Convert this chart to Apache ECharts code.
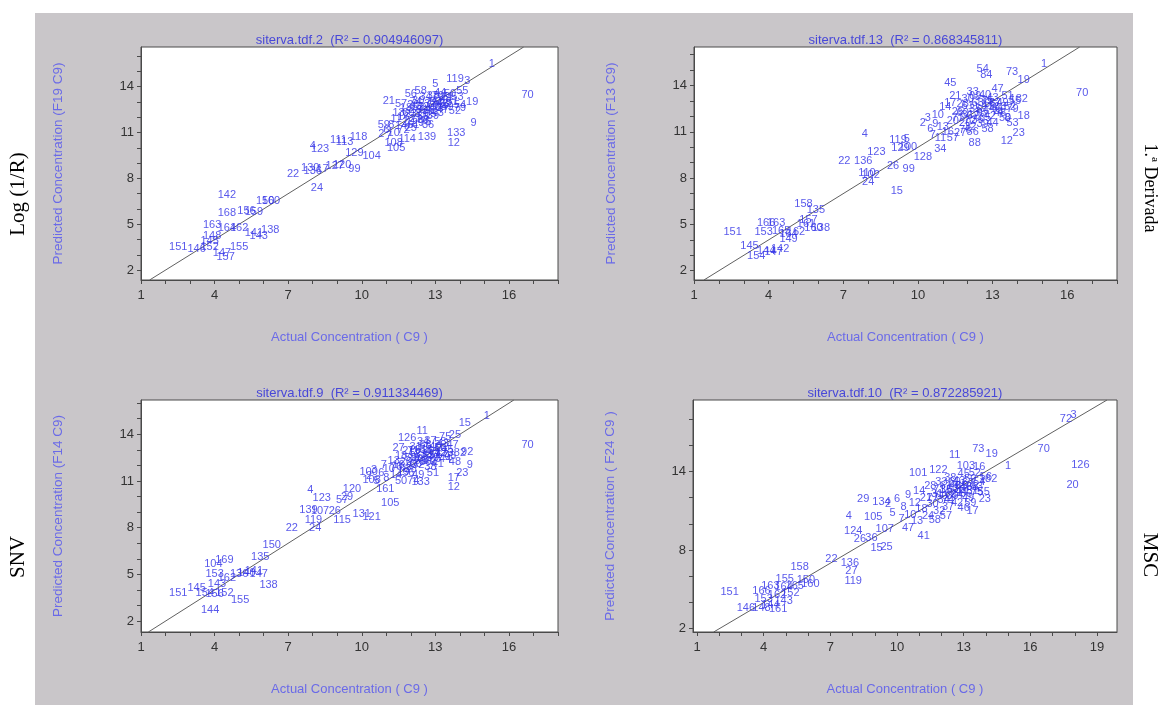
<!DOCTYPE html>
<html>
<head>
<meta charset="utf-8">
<script src="https://cdn.jsdelivr.net/npm/echarts@6/dist/echarts.min.js"></script>
<style>
  html, body { margin: 0; padding: 0; background: #fff; }
  #wrap { position: relative; width: 1164px; height: 705px; }
  #backdrop { position: absolute; left: 35px; top: 13px; width: 1098px; height: 692px; background: #c9c6c9; }
  #chart { position: absolute; left: 0; top: 0; width: 1164px; height: 705px; }
</style>
</head>
<body>
<div id="wrap">
  <div id="backdrop"></div>
  <div id="chart"></div>
</div>
<script>
// tick labels / tick positions
const xLabelsStd = [1, 4, 7, 10, 13, 16]
const xTicksStd = [1, 2, 3, 4, 5, 6, 7, 8, 9, 10, 11, 12, 13, 14, 15, 16, 17, 18]
const yLabelsStd = [2, 5, 8, 11, 14]
const yTicksStd = [2, 3, 4, 5, 6, 7, 8, 9, 10, 11, 12, 13, 14, 15, 16]
const xLabelsMsc = [1, 4, 7, 10, 13, 16, 19]
const xTicksMsc = [1, 2, 3, 4, 5, 6, 7, 8, 9, 10, 11, 12, 13, 14, 15, 16, 17, 18, 19]
const yLabelsMsc = [2, 8, 14]
const yTicksMsc = [2, 4, 6, 8, 10, 12, 14, 16, 18]

// Log (1/R)  -- sample id, actual C9, predicted
const logIds = [
  1, 70, 119, 3, 5, 9, 133, 12, 19, 79,
  21, 114, 139, 118, 111, 4, 123, 113, 129, 104,
  105, 108, 22, 130, 136, 17, 127, 120, 99, 24,
  142, 150, 160, 168, 156, 159, 163, 164, 162, 141,
  138, 143, 145, 148, 151, 146, 152, 155, 157, 147,
  2, 6, 7, 8, 10, 11, 13, 14, 16, 18,
  20, 23, 25, 26, 27, 28, 29, 30, 31, 32,
  33, 34, 35, 36, 37, 38, 39, 40, 42, 43,
  44, 46, 47, 48, 49, 50, 51, 52, 53, 54,
  55, 56, 57, 58, 59,
  60, 61, 62, 63, 64, 65, 66, 67, 68, 69,
  71, 72, 74, 75, 76]
const logActual = [
  15.3, 16.76, 13.8, 14.3, 13.0, 14.56, 13.85, 13.75, 14.5, 14.0,
  11.1, 11.85, 12.66, 9.87, 9.05, 8.0, 8.3, 9.3, 9.7, 10.4,
  11.4, 11.3, 7.2, 7.9, 8.0, 8.4, 8.9, 9.2, 9.7, 8.17,
  4.5, 6.06, 6.3, 4.5, 5.3, 5.6, 3.9, 4.5, 5.0, 5.6,
  6.27, 5.8, 3.8, 3.9, 2.52, 3.27, 3.8, 5.0, 4.45, 4.3,
  10.8, 11.0, 11.1, 11.2, 11.3, 11.4, 11.5, 11.6, 11.7, 11.8,
  11.9, 12.0, 12.0, 12.1, 12.2, 12.2, 12.3, 12.3, 12.4, 12.5,
  12.5, 12.6, 12.7, 12.7, 12.8, 12.9, 12.9, 13.0, 13.1, 13.1,
  13.2, 13.3, 13.3, 13.4, 13.5, 13.6, 13.7, 13.8, 13.9, 14.0,
  14.1, 12.0, 11.6, 12.4, 10.9,
  11.9, 12.1, 12.3, 12.5, 12.6, 12.8, 12.9, 13.0, 13.2, 13.4,
  13.5, 11.7, 12.2, 12.6, 13.1]
const logPred = [
  15.5, 13.45, 14.5, 14.4, 14.2, 11.6, 10.95, 10.35, 13.0, 12.6,
  13.1, 10.6, 10.7, 10.7, 10.5, 10.1, 9.95, 10.4, 9.65, 9.45,
  10.0, 10.3, 8.3, 8.65, 8.5, 8.6, 8.8, 8.9, 8.6, 7.35,
  6.9, 6.5, 6.55, 5.75, 5.9, 5.8, 4.95, 4.75, 4.75, 4.45,
  4.6, 4.25, 3.9, 4.2, 3.48, 3.35, 3.5, 3.5, 2.85, 3.1,
  10.9, 11.2, 10.8, 11.5, 11.0, 11.9, 12.3, 11.4, 12.0, 12.6,
  11.7, 12.2, 11.3, 12.8, 11.9, 12.5, 11.6, 13.1, 12.2, 12.7,
  11.8, 13.3, 12.4, 11.5, 12.9, 13.4, 12.1, 12.6, 13.1, 12.3,
  13.6, 12.9, 12.5, 13.2, 12.7, 13.5, 13.0, 12.4, 13.3, 12.8,
  13.7, 13.5, 12.9, 13.7, 11.5,
  12.3, 11.5, 12.7, 12.0, 12.5, 12.2, 12.8, 13.0, 12.7, 12.9,
  13.3, 11.2, 13.0, 11.7, 13.4]

// 1.a Derivada
const derIds = [
  1, 73, 19, 54, 84, 45, 70, 182, 18, 79,
  8, 23, 12, 88, 4, 119, 5, 123, 22, 136,
  129, 100, 128, 34, 26, 99, 102, 110, 24, 15,
  158, 135, 157, 161, 160, 138, 151, 153, 166, 163,
  165, 164, 162, 149, 145, 154, 144, 142, 147,
  2, 3, 6, 7, 9, 10, 11, 13, 14, 16,
  17, 20, 21, 25, 27, 28, 29, 30, 31, 32,
  33, 35, 36, 37, 38, 39, 40, 41, 42, 43,
  44, 46, 47, 48, 49, 50, 51, 52, 53, 55,
  56, 57, 58,
  60, 61, 62, 63, 64, 65, 66, 67, 68, 69,
  71, 72, 74, 75, 76]
const derActual = [
  15.07, 13.78, 14.25, 12.6, 12.75, 11.3, 16.6, 14.05, 14.25, 13.8,
  13.6, 14.05, 13.57, 12.28, 7.86, 9.2, 9.55, 8.33, 7.04, 7.8,
  9.3, 9.6, 10.2, 10.9, 9.0, 9.63, 8.1, 7.95, 8.0, 9.15,
  5.4, 5.9, 5.6, 5.5, 5.8, 6.1, 2.55, 3.8, 3.9, 4.3,
  4.5, 4.8, 5.1, 4.8, 3.23, 3.5, 3.9, 4.46, 4.2,
  10.2, 10.4, 10.5, 10.6, 10.7, 10.8, 10.9, 11.0, 11.1, 11.2,
  11.3, 11.4, 11.5, 11.6, 11.7, 11.8, 11.9, 12.0, 12.0, 12.1,
  12.2, 12.3, 12.4, 12.5, 12.5, 12.6, 12.7, 12.8, 12.9, 13.0,
  13.0, 13.1, 13.2, 13.3, 13.4, 13.5, 13.6, 13.7, 13.8, 13.9,
  12.2, 11.4, 12.8,
  11.8, 12.0, 12.2, 12.4, 12.6, 12.7, 12.9, 13.1, 13.3, 12.3,
  11.6, 12.1, 13.2, 12.8, 11.9]
const derPred = [
  15.4, 14.9, 14.35, 15.1, 14.7, 14.2, 13.55, 13.1, 12.0, 12.5,
  11.9, 10.9, 10.4, 10.3, 10.85, 10.5, 10.55, 9.7, 9.1, 9.1,
  9.95, 10.0, 9.4, 9.9, 8.8, 8.6, 8.2, 8.35, 7.75, 7.2,
  6.3, 5.95, 5.3, 5.0, 4.8, 4.75, 4.5, 4.5, 5.1, 5.1,
  4.6, 4.4, 4.5, 4.07, 3.6, 2.95, 3.3, 3.4, 3.2,
  11.6, 11.9, 11.2, 10.8, 11.5, 12.1, 10.6, 11.3, 12.6, 11.0,
  12.9, 11.7, 13.3, 12.3, 10.9, 12.8, 11.6, 13.1, 12.1, 11.3,
  13.6, 12.5, 11.8, 13.0, 12.2, 11.5, 13.4, 12.7, 12.0, 13.2,
  11.6, 12.5, 13.8, 12.2, 12.9, 11.9, 13.3, 12.6, 11.6, 13.0,
  11.0, 10.6, 11.2,
  12.2, 12.7, 12.0, 12.9, 12.4, 11.9, 12.8, 12.9, 12.6, 13.3,
  11.9, 11.7, 12.3, 13.0, 11.1]

// SNV
const snvIds = [
  15, 1, 70, 11, 126, 25, 75, 27, 92, 82,
  9, 23, 17, 12, 133, 74, 100, 108, 161, 105,
  4, 123, 120, 57, 29, 139, 107, 26, 121, 131,
  115, 119, 24, 22, 150, 135, 104, 169, 153, 136,
  140, 141, 147, 162, 138, 145, 143, 151, 154, 156,
  152, 155, 144,
  2, 3, 5, 6, 7, 8, 10, 13, 14, 16,
  18, 19, 20, 21, 28, 30, 31, 32, 33, 34,
  35, 36, 37, 38, 39, 40, 41, 42, 43, 44,
  45, 46, 47, 48, 49, 50, 51, 52, 53, 54,
  55, 56, 58,
  59, 60, 61, 62, 63, 64, 65, 66, 67, 68,
  69, 71, 72, 73, 76]
const snvActual = [
  14.2, 15.1, 16.76, 12.46, 11.85, 13.8, 13.4, 11.5, 14.3, 14.0,
  14.4, 14.1, 13.75, 13.75, 12.4, 12.1, 10.28, 10.4, 10.96, 11.16,
  7.9, 8.37, 9.6, 9.2, 9.4, 7.83, 8.3, 8.9, 10.4, 10.0,
  9.2, 8.03, 8.1, 7.15, 6.33, 5.86, 3.95, 4.4, 4.0, 5.0,
  5.3, 5.6, 5.8, 4.5, 6.2, 3.27, 4.1, 2.52, 3.6, 4.0,
  4.4, 5.04, 3.82,
  10.3, 10.5, 10.6, 10.8, 10.9, 11.0, 11.1, 11.3, 11.4, 11.5,
  11.6, 11.7, 11.8, 11.9, 12.0, 12.1, 12.2, 12.3, 12.4, 12.5,
  12.6, 12.7, 12.8, 12.8, 12.9, 13.0, 13.1, 13.2, 13.3, 13.4,
  13.5, 13.6, 13.7, 13.8, 12.3, 11.6, 12.9, 12.2, 12.6, 13.0,
  12.4, 11.9, 13.2,
  12.0, 12.2, 12.4, 12.5, 12.7, 12.9, 13.0, 13.2, 13.3, 12.6,
  11.8, 12.1, 12.8, 13.5, 11.4]
const snvPred = [
  14.7, 15.2, 13.3, 14.2, 13.75, 13.95, 13.85, 13.1, 12.85, 12.8,
  12.0, 11.5, 11.2, 10.6, 10.95, 11.0, 11.6, 11.05, 10.5, 9.6,
  10.4, 9.93, 10.5, 9.8, 10.0, 9.13, 9.1, 9.05, 8.7, 8.9,
  8.5, 8.5, 7.95, 7.95, 6.9, 6.1, 5.7, 5.9, 5.0, 5.0,
  5.1, 5.2, 5.0, 4.8, 4.3, 4.14, 4.4, 3.8, 3.8, 3.75,
  3.8, 3.35, 2.7,
  11.3, 11.7, 11.0, 11.5, 12.0, 11.2, 11.8, 12.3, 11.4, 12.0,
  12.6, 11.6, 12.2, 12.9, 11.8, 12.4, 13.2, 12.0, 12.7, 13.5,
  12.2, 12.9, 13.6, 11.9, 12.5, 13.2, 12.1, 12.8, 13.4, 12.4,
  13.0, 12.6, 13.3, 12.2, 11.4, 11.0, 11.5, 12.8, 13.0, 12.7,
  12.3, 11.5, 13.5,
  12.5, 12.1, 13.0, 12.4, 12.6, 13.0, 12.4, 13.1, 12.7, 13.3,
  11.9, 12.9, 12.3, 12.8, 11.9]

// MSC
const mscIds = [
  72, 3, 70, 126, 20, 1, 73, 19, 11, 101,
  122, 103, 16, 182, 23, 17, 29, 134, 4, 105,
  41, 47, 124, 36, 26, 15, 25, 22, 136, 27,
  119, 158, 155, 150, 160, 163, 164, 165, 166, 151,
  162, 152, 153, 143, 146, 148, 161, 144, 107,
  2, 5, 6, 7, 8, 9, 10, 12, 13, 14,
  18, 21, 24, 28, 30, 31, 32, 33, 34, 35,
  37, 38, 39, 40, 42, 43, 44, 45, 46, 48,
  49, 50, 51, 52, 53, 54, 55, 56, 57, 58,
  59,
  60, 61, 62, 63, 64, 65, 66, 67, 68, 69,
  71, 74, 75, 76, 77]
const mscActual = [
  17.6, 17.95, 16.6, 18.25, 17.9, 15.0, 13.66, 14.26, 12.6, 10.95,
  11.86, 13.1, 13.7, 14.1, 13.95, 13.4, 8.48, 9.3, 7.83, 8.93,
  11.2, 10.5, 8.03, 8.85, 8.33, 9.08, 9.53, 7.05, 7.88, 7.95,
  8.03, 5.62, 4.95, 5.9, 6.1, 4.3, 4.9, 5.4, 3.9, 2.47,
  4.6, 5.2, 4.0, 4.9, 3.2, 3.9, 4.65, 4.3, 9.45,
  9.6, 9.8, 10.0, 10.2, 10.3, 10.5, 10.6, 10.8, 10.9, 11.0,
  11.1, 11.3, 11.4, 11.5, 11.6, 11.8, 11.9, 12.0, 12.1, 12.2,
  12.3, 12.4, 12.5, 12.6, 12.7, 12.8, 12.9, 13.0, 13.0, 13.1,
  13.2, 13.3, 13.4, 13.5, 13.6, 13.7, 13.9, 14.0, 12.2, 11.7,
  13.3,
  12.0, 12.2, 12.4, 12.5, 12.7, 12.9, 13.1, 13.2, 13.4, 12.6,
  11.9, 12.3, 13.6, 12.8, 11.6]
const mscPred = [
  18.0, 18.3, 15.7, 14.5, 12.95, 14.4, 15.7, 15.3, 15.26, 13.9,
  14.1, 14.4, 14.35, 13.4, 11.9, 11.0, 11.9, 11.7, 10.6, 10.5,
  9.1, 9.65, 9.45, 8.95, 8.87, 8.14, 8.2, 7.3, 7.05, 6.42,
  5.67, 6.68, 5.8, 5.7, 5.4, 5.3, 5.2, 5.3, 4.9, 4.8,
  4.6, 4.7, 4.3, 4.1, 3.6, 3.6, 3.5, 3.8, 9.6,
  11.5, 10.8, 11.9, 10.4, 11.3, 12.2, 10.7, 11.6, 10.2, 12.5,
  11.1, 12.0, 10.6, 12.9, 11.5, 12.3, 11.0, 13.2, 11.8, 12.6,
  11.3, 13.5, 12.1, 12.9, 11.6, 13.3, 12.4, 13.8, 11.2, 12.8,
  12.0, 13.4, 12.5, 13.9, 12.8, 13.2, 12.4, 13.6, 10.6, 10.3,
  11.6,
  12.1, 12.9, 12.3, 12.7, 12.2, 12.9, 12.3, 13.1, 12.8, 13.2,
  12.6, 11.8, 12.4, 12.6, 12.0]

const panels = [
  { ids: logIds, actual: logActual, pred: logPred,
    title: 'siterva.tdf.2  (R\u00b2 = 0.904946097)', yName: 'Predicted Concentration (F19 C9)',
    grid: { left: 141, top: 47, width: 417, height: 233 }, xr: [1, 18], yr: [1.35, 16.6],
    xLabels: xLabelsStd, xTicks: xTicksStd, yLabels: yLabelsStd, yTicks: yTicksStd },
  { ids: derIds, actual: derActual, pred: derPred,
    title: 'siterva.tdf.13  (R\u00b2 = 0.868345811)', yName: 'Predicted Concentration (F13 C9)',
    grid: { left: 694, top: 47, width: 423, height: 233 }, xr: [1, 18], yr: [1.4, 16.5],
    xLabels: xLabelsStd, xTicks: xTicksStd, yLabels: yLabelsStd, yTicks: yTicksStd },
  { ids: snvIds, actual: snvActual, pred: snvPred,
    title: 'siterva.tdf.9  (R\u00b2 = 0.911334469)', yName: 'Predicted Concentration (F14 C9)',
    grid: { left: 141, top: 400, width: 417, height: 232 }, xr: [1, 18], yr: [1.3, 16.2],
    xLabels: xLabelsStd, xTicks: xTicksStd, yLabels: yLabelsStd, yTicks: yTicksStd },
  { ids: mscIds, actual: mscActual, pred: mscPred,
    title: 'siterva.tdf.10  (R\u00b2 = 0.872285921)', yName: 'Predicted Concentration ( F24 C9 )',
    grid: { left: 693, top: 400, width: 424, height: 232 }, xr: [0.82, 19.9], yr: [1.75, 19.45],
    xLabels: xLabelsMsc, xTicks: xTicksMsc, yLabels: yLabelsMsc, yTicks: yTicksMsc },
]

const AXIS = '#4a4a4a'
const NAME_COLOR = '#6a6ae8'
const POINT_COLOR = '#2e2ee6'
const SANS = '"Liberation Sans", Arial, sans-serif'
const SERIF = '"Liberation Serif", "Times New Roman", serif'

const chart = echarts.init(document.getElementById('chart'), null, { renderer: 'canvas' })

const option = {
  animation: false,
  grid: panels.map(p => ({
    ...p.grid,
    show: true,
    backgroundColor: '#ffffff',
    borderColor: AXIS,
    borderWidth: 1,
  })),
  xAxis: panels.map((p, i) => ({
    gridIndex: i,
    type: 'value',
    min: p.xr[0],
    max: p.xr[1],
    axisLine: { show: true, onZero: false, lineStyle: { color: AXIS } },
    axisTick: { show: true, length: 4, customValues: p.xTicks, lineStyle: { color: AXIS } },
    axisLabel: { customValues: p.xLabels, color: '#333', fontSize: 13, fontFamily: SANS, margin: 9 },
    splitLine: { show: false },
    name: 'Actual Concentration ( C9 )',
    nameLocation: 'middle',
    nameGap: 51,
    nameTextStyle: { color: NAME_COLOR, fontSize: 13, fontFamily: SANS },
  })),
  yAxis: panels.map((p, i) => ({
    gridIndex: i,
    type: 'value',
    min: p.yr[0],
    max: p.yr[1],
    axisLine: { show: true, onZero: false, lineStyle: { color: AXIS } },
    axisTick: { show: true, length: 4, customValues: p.yTicks, lineStyle: { color: AXIS } },
    axisLabel: { customValues: p.yLabels, color: '#333', fontSize: 13, fontFamily: SANS, margin: 7 },
    splitLine: { show: false },
    name: p.yName,
    nameLocation: 'middle',
    nameGap: 76,
    nameTextStyle: { color: NAME_COLOR, fontSize: 13.5, fontFamily: SANS },
  })),
  series: [],
  graphic: [],
}

panels.forEach((p, i) => {
  // target line y = x across the visible box
  const lo = Math.max(p.xr[0], p.yr[0])
  const hi = Math.min(p.xr[1], p.yr[1])
  option.series.push({
    type: 'line',
    xAxisIndex: i,
    yAxisIndex: i,
    data: [[lo, lo], [hi, hi]],
    symbol: 'none',
    silent: true,
    lineStyle: { color: '#606060', width: 1 },
    z: 2,
  })
  option.series.push({
    type: 'scatter',
    xAxisIndex: i,
    yAxisIndex: i,
    data: p.ids.map((id, k) => [p.actual[k], p.pred[k], id]),
    symbolSize: 1,
    itemStyle: { color: 'rgba(0,0,0,0)' },
    silent: true,
    label: {
      show: true,
      position: 'inside',
      formatter: d => String(d.value[2]),
      color: POINT_COLOR,
      fontSize: 11,
      fontFamily: SANS,
    },
    z: 3,
  })
  option.graphic.push({
    type: 'text',
    x: p.grid.left + p.grid.width / 2,
    y: p.grid.top - 7,
    silent: true,
    style: {
      text: p.title,
      font: '13px ' + SANS,
      fill: '#4848d8',
      align: 'center',
      verticalAlign: 'middle',
      textAlign: 'center',
      textVerticalAlign: 'middle',
    },
  })
})

// row labels beside the panels
const sideLabels = [
  { text: 'Log (1/R)', x: 18, y: 194, rot: Math.PI / 2, size: 21 },
  { text: '1.\u00aa Derivada', x: 1150, y: 188, rot: -Math.PI / 2, size: 18 },
  { text: 'SNV', x: 18, y: 557, rot: Math.PI / 2, size: 21 },
  { text: 'MSC', x: 1150, y: 555, rot: -Math.PI / 2, size: 21 },
]
sideLabels.forEach(s => {
  option.graphic.push({
    type: 'text',
    x: s.x,
    y: s.y,
    rotation: s.rot,
    silent: true,
    style: {
      text: s.text,
      font: s.size + 'px ' + SERIF,
      fill: '#000',
      align: 'center',
      verticalAlign: 'middle',
      textAlign: 'center',
      textVerticalAlign: 'middle',
    },
  })
})

chart.setOption(option)
</script>
</body>
</html>
